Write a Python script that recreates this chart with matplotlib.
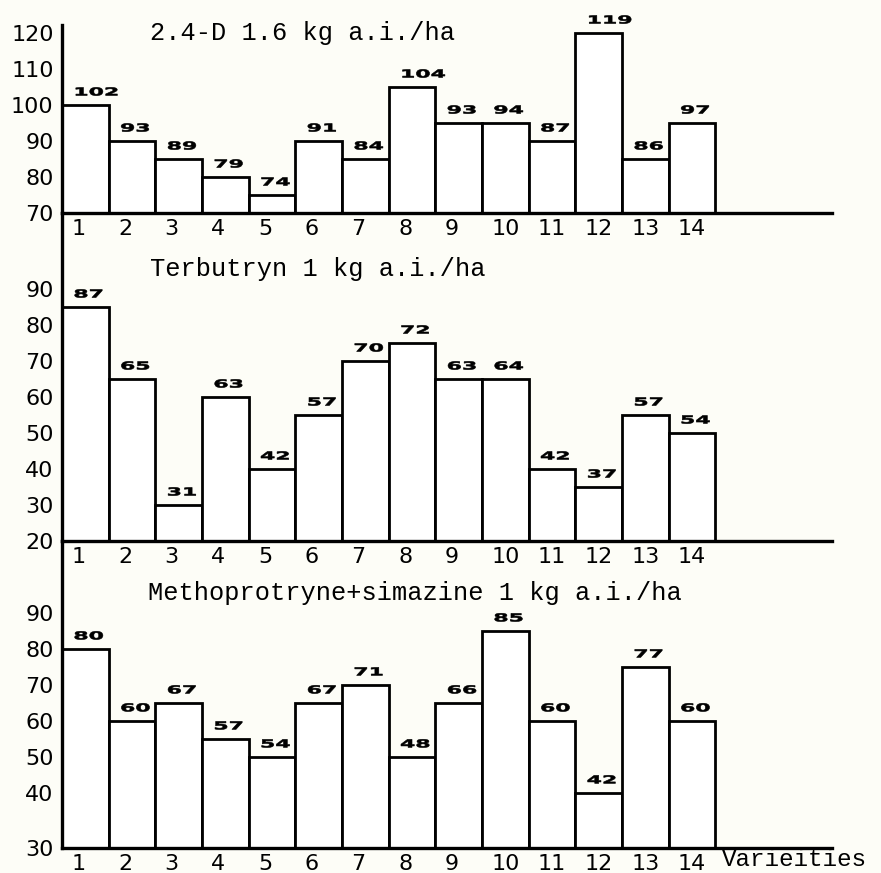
import numpy as np
import matplotlib
matplotlib.use("Agg")
import matplotlib.pyplot as plt
from matplotlib.textpath import TextPath
from matplotlib.patches import PathPatch
from matplotlib.transforms import Affine2D, ScaledTranslation
from matplotlib.font_manager import FontProperties

# --- data ------------------------------------------------------------------
varieties = list(range(1, 15))

titles = [
    "2.4-D 1.6 kg a.i./ha",
    "Terbutryn 1 kg a.i./ha",
    "Methoprotryne+simazine 1 kg a.i./ha",
]

# printed numbers above the bars
labels_24d = [102, 93, 89, 79, 74, 91, 84, 104, 93, 94, 87, 119, 86, 97]
labels_terb = [87, 65, 31, 63, 42, 57, 70, 72, 63, 64, 42, 37, 57, 54]
labels_meth = [80, 60, 67, 57, 54, 67, 71, 48, 66, 85, 60, 42, 77, 60]

# bar tops as drawn (the original plots them on a 5-unit grid)
bars_24d = [100, 90, 85, 80, 75, 90, 85, 105, 95, 95, 90, 120, 85, 95]
bars_terb = [85, 65, 30, 60, 40, 55, 70, 75, 65, 65, 40, 35, 55, 50]
bars_meth = [80, 60, 65, 55, 50, 65, 70, 50, 65, 85, 60, 40, 75, 60]

yticks_24d = [70, 80, 90, 100, 110, 120]
yticks_terb = [20, 30, 40, 50, 60, 70, 80, 90]
yticks_meth = [30, 40, 50, 60, 70, 80, 90]

# --- layout (pixels of an 881x873 canvas) -----------------------------------
W, H = 881, 873
BG = "#fdfdf7"
PX_PER_UNIT = 3.6
LEFT, RIGHT = 62, 832
XMAX = 16.5

# (top px, bottom px, y at baseline)
panels = [
    (25, 213, 70, bars_24d, labels_24d, yticks_24d),
    (213, 541, 20, bars_terb, labels_terb, yticks_terb),
    (541, 848, 24.7, bars_meth, labels_meth, yticks_meth),
]
title_pos = [(150, 33), (150, 269), (148, 593)]

VALUE_FONT = FontProperties(family="DejaVu Sans", weight="bold")


def value_label(ax, x, y, s):
    # squat, wide plotter-style number, left edge ~11 px left of bar centre
    tp = TextPath((0, 0), s, size=1, prop=VALUE_FONT)
    tr = (Affine2D().scale(22, 11).translate(-12, 9.5)
          + ScaledTranslation(x, y, ax.transData))
    ax.add_artist(PathPatch(tp, transform=tr, fc="black", ec="black",
                            linewidth=0.4, clip_on=False))


fig = plt.figure(figsize=(W / 100, H / 100), dpi=100, facecolor=BG)
x = np.arange(len(varieties)) + 0.5

for i, (top, bot, ymin, bars, labels, yticks) in enumerate(panels):
    ax = fig.add_axes([LEFT / W, (H - bot) / H, (RIGHT - LEFT) / W, (bot - top) / H])
    ax.set_facecolor("none")
    heights = np.array(bars) - ymin
    ax.bar(x, heights, width=1.0, bottom=ymin, color="white",
           edgecolor="black", linewidth=2.0, zorder=2)
    ax.set_xlim(0, XMAX)
    ax.set_ylim(ymin, ymin + (bot - top) / PX_PER_UNIT)

    for xi, b, lab in zip(x, bars, labels):
        value_label(ax, xi, b, str(lab))

    for side in ("top", "right"):
        ax.spines[side].set_visible(False)
    for side in ("left", "bottom"):
        ax.spines[side].set_linewidth(2.4)
        ax.spines[side].set_zorder(3)

    # first tick of the bottom panel sits on the baseline
    ypos = list(yticks)
    if i == 2:
        ypos[0] = ymin
    ax.set_yticks(ypos, [str(t) for t in yticks])
    ax.set_xticks(x - 0.3, [str(v) for v in varieties])
    ax.tick_params(length=0, labelsize=16, colors="black")
    ax.tick_params(axis="x", pad=4)
    ax.tick_params(axis="y", pad=6)
    for lab in ax.get_xticklabels():
        lab.set_ha("left")
        lab.set_family("DejaVu Sans")
    for lab in ax.get_yticklabels():
        lab.set_family("DejaVu Sans")

    tx, ty = title_pos[i]
    fig.text(tx / W, 1 - ty / H, titles[i], ha="left", va="center",
             family="Liberation Mono", fontsize=18.3, color="black")

fig.text(722 / W, 1 - 866 / H, "Varieities", ha="left", va="baseline",
         family="Liberation Mono", fontsize=17.5, color="black")

fig.savefig("out.png", dpi=100, facecolor=BG)
